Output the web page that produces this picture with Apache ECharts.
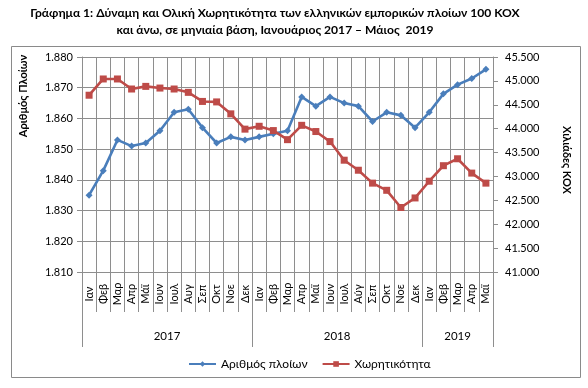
<!DOCTYPE html>
<html>
<head>
<meta charset="utf-8">
<script src="https://cdn.jsdelivr.net/npm/echarts@6/dist/echarts.min.js"></script>
<style>html,body{margin:0;padding:0;background:#fff}#c{width:588px;height:388px}</style>
</head>
<body>
<div id="c"></div>
<script>
var months = ['Ιαν','Φεβ','Μαρ','Απρ','Μάϊ','Ιουν','Ιουλ','Αυγ','Σεπ','Οκτ','Νοε','Δεκ',
              'Ιαν','Φεβ','Μαρ','Απρ','Μαϊ','Ιουν','Ιουλ','Αύγ','Σεπ','Οκτ','Νοε','Δεκ',
              'Ιαν','Φεβ','Μαρ','Απρ','Μαϊ'];
var years = ['2017','2018','2019'];
var yearBounds = [0, 12, 24, 29];
var yearCenters = [6, 18, 26.5];
var ships = [1835,1843,1853,1851,1852,1856,1862,1863,1857,1852,1854,1853,
             1854,1855,1856,1867,1864,1867,1865,1864,1859,1862,1861,1857,
             1862,1868,1871,1873,1876];
var tonnage = [44700,45040,45040,44830,44885,44850,44830,44760,44570,44560,44310,43990,
               44050,43960,43770,44070,43940,43730,43340,43130,42860,42710,42350,42550,
               42900,43225,43370,43070,42860];
var leftTicks = {min:1810, max:1880, interval:10};
var rightTicks = {min:41000, max:45500, interval:500};

function fmt(v){ return String(v).replace(/\B(?=(\d{3})+(?!\d))/g, '.'); }
var FONT = 'Lato';
var GRID = '#8e8e8e';
var chart = echarts.init(document.getElementById('c'), null, {renderer:'canvas'});
chart.setOption({
  animation:false,
  textStyle:{fontFamily:FONT},
  graphic:[
    {type:'rect', shape:{x:11.5,y:46.5,width:569,height:331}, style:{fill:'none', stroke:'#8a8a8a', lineWidth:1}, silent:true, z:-1},
    {type:'text', x:275, y:13, style:{text:'Γράφημα 1: Δύναμη και Ολική Χωρητικότητα των ελληνικών εμπορικών πλοίων 100 ΚΟΧ', textAlign:'center', textVerticalAlign:'middle', font:'bold 12.1px '+FONT, fill:'#000'}},
    {type:'text', x:275, y:30, style:{text:'και άνω, σε μηνιαία βάση, Ιανουάριος 2017 – Μάιος  2019', textAlign:'center', textVerticalAlign:'middle', font:'bold 12.1px '+FONT, fill:'#000'}},
    {type:'text', x:23, y:96, rotation:Math.PI/2, style:{text:'Αριθμός Πλοίων', textAlign:'center', textVerticalAlign:'middle', font:'bold 11px '+FONT, fill:'#000'}},
    {type:'text', x:567, y:160, rotation:-Math.PI/2, style:{text:'Χιλιάδες ΚΟΧ', textAlign:'center', textVerticalAlign:'middle', font:'bold 11px '+FONT, fill:'#000'}}
  ],
  legend:{
    left:183, top:353, itemWidth:27, itemHeight:7, itemGap:14,
    textStyle:{fontFamily:FONT, fontSize:12, color:'#000'},
    data:['Αριθμός πλοίων','Χωρητικότητα']
  },
  grid:{left:82, right:95, top:57, bottom:116, containLabel:false},
  xAxis:[
    {type:'category', data:months, boundaryGap:true, position:'bottom',
     axisLine:{show:true, lineStyle:{color:GRID}},
     axisTick:{show:true, interval:0, length:40, lineStyle:{color:GRID}},
     splitLine:{show:true, interval:0, lineStyle:{color:GRID}},
     axisLabel:{interval:0, rotate:90, align:'center', verticalAlign:'middle', margin:22, fontSize:11, color:'#000', fontFamily:FONT}},
    {type:'value', min:0, max:29, position:'bottom', gridIndex:0,
     axisLine:{show:false},
     splitLine:{show:false},
     axisTick:{show:true, customValues:yearBounds, length:75, lineStyle:{color:GRID}},
     axisLabel:{show:true, customValues:yearCenters, margin:58, fontSize:11.5, color:'#000', fontFamily:FONT,
       formatter:function(v){ var i = yearCenters.indexOf(v); return i>=0 ? years[i] : ''; }}}
  ],
  yAxis:[
    {type:'value', min:leftTicks.min, max:leftTicks.max, interval:leftTicks.interval, position:'left',
     axisLine:{show:true, lineStyle:{color:GRID}},
     axisTick:{show:true, length:5, lineStyle:{color:GRID}},
     splitLine:{show:true, lineStyle:{color:GRID}},
     axisLabel:{formatter:fmt, fontSize:11, color:'#000', margin:9, fontFamily:FONT}},
    {type:'value', min:rightTicks.min, max:rightTicks.max, interval:rightTicks.interval, position:'right',
     axisLine:{show:true, lineStyle:{color:GRID}},
     axisTick:{show:true, length:5, lineStyle:{color:GRID}},
     splitLine:{show:false},
     axisLabel:{formatter:fmt, fontSize:11, color:'#000', margin:12, fontFamily:FONT}}
  ],
  series:[
    {name:'Αριθμός πλοίων', type:'line', data:ships, xAxisIndex:0, yAxisIndex:0,
     symbol:'diamond', symbolSize:7, showAllSymbol:true,
     lineStyle:{color:'#4A7EBB', width:2.6}, itemStyle:{color:'#4A7EBB'}},
    {name:'Χωρητικότητα', type:'line', data:tonnage, xAxisIndex:0, yAxisIndex:1,
     symbol:'rect', symbolSize:7, showAllSymbol:true,
     lineStyle:{color:'#BE4B48', width:2.6}, itemStyle:{color:'#BE4B48'}}
  ]
});
</script>
</body>
</html>
